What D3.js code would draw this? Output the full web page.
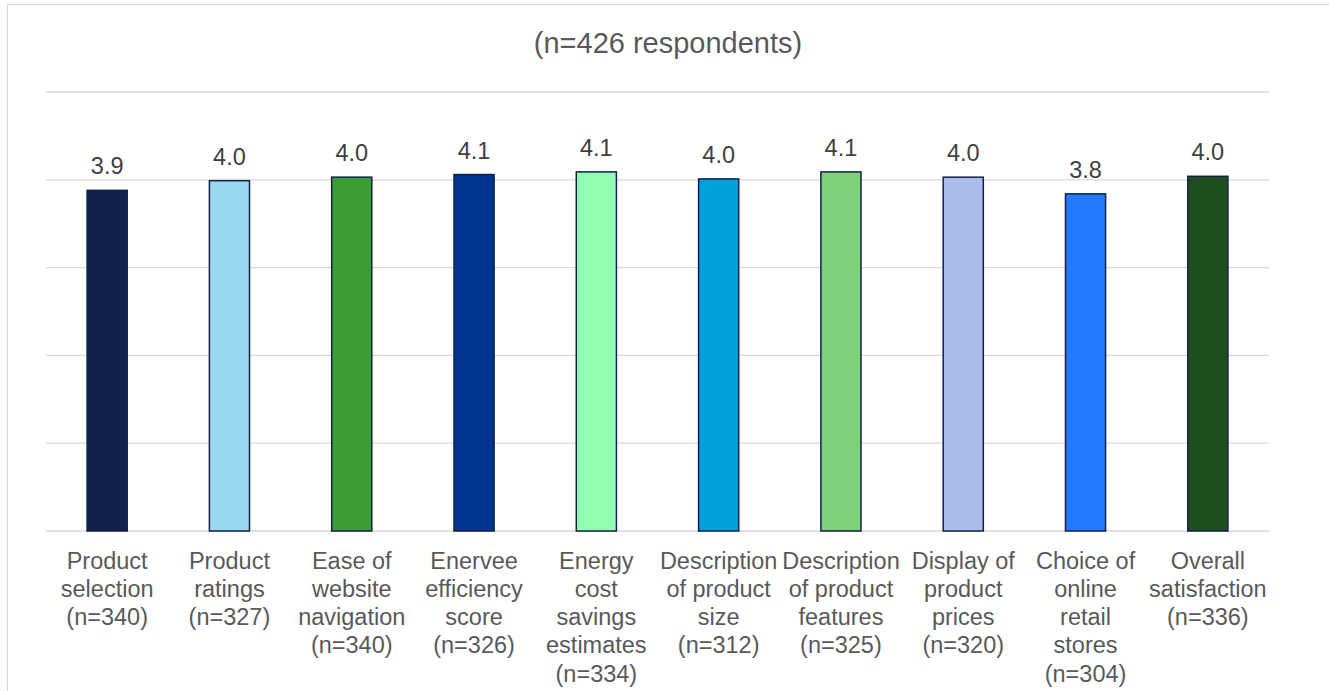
<!DOCTYPE html>
<html>
<head>
<meta charset="utf-8">
<script src="https://cdn.jsdelivr.net/npm/d3@7"></script>
<style>
  html, body { margin: 0; padding: 0; background: #ffffff; }
  svg { display: block; }
  text { font-family: "Liberation Sans", Arial, sans-serif; }
</style>
</head>
<body>
<svg id="chart" width="1329" height="691"></svg>
<script>
// Mean satisfaction ratings per aspect (1–5 scale)
const categories = [
  "Product\nselection",
  "Product\nratings",
  "Ease of\nwebsite\nnavigation",
  "Enervee\nefficiency\nscore",
  "Energy\ncost\nsavings\nestimates",
  "Description\nof product\nsize",
  "Description\nof product\nfeatures",
  "Display of\nproduct\nprices",
  "Choice of\nonline\nretail\nstores",
  "Overall\nsatisfaction"
];
const sampleSizes = [340, 327, 340, 326, 334, 312, 325, 320, 304, 336];
const meanScores = [3.88, 3.99, 4.03, 4.06, 4.09, 4.01, 4.09, 4.03, 3.84, 4.04];
const barColors = [
  "#10214b", "#99d9f0", "#3c9c35", "#003591", "#94ffb3",
  "#00a0dc", "#80d07a", "#a9bceb", "#2479ff", "#1f4e1e"
];
const yTicks = [0, 1, 2, 3, 4, 5];
const titleText = "(n=426 respondents)";

const svg = d3.select("#chart");
const plot = { left: 46, right: 1269, top: 92, bottom: 531 };

// Outer chart frame
svg.append("rect")
  .attr("x", 7.5).attr("y", 4.5)
  .attr("width", 1340).attr("height", 700)
  .attr("fill", "none")
  .attr("stroke", "#d9d9d9")
  .attr("stroke-width", 1.2);

// Subtitle
svg.append("text")
  .attr("x", 668).attr("y", 53)
  .attr("text-anchor", "middle")
  .attr("font-size", 29)
  .attr("fill", "#595959")
  .text(titleText);

const x = d3.scaleBand()
  .domain(d3.range(categories.length))
  .range([plot.left, plot.right])
  .paddingInner(0.672)
  .paddingOuter(0.336);

const y = d3.scaleLinear()
  .domain([0, 5])
  .range([plot.bottom, plot.top]);

// Horizontal gridlines
svg.append("g")
  .selectAll("line")
  .data(yTicks)
  .join("line")
  .attr("x1", plot.left).attr("x2", plot.right)
  .attr("y1", d => y(d)).attr("y2", d => y(d))
  .attr("stroke", "#d9d9d9")
  .attr("stroke-width", d => d === 0 ? 1.6 : 1.3);

// Bars
svg.append("g")
  .selectAll("rect")
  .data(meanScores)
  .join("rect")
  .attr("x", (d, i) => x(i))
  .attr("y", d => y(d))
  .attr("width", x.bandwidth())
  .attr("height", d => y(0) - y(d))
  .attr("fill", (d, i) => barColors[i])
  .attr("stroke", "#10214b")
  .attr("stroke-width", 1.5);

// Value labels
const fmt = d3.format(".1f");
svg.append("g")
  .selectAll("text")
  .data(meanScores)
  .join("text")
  .attr("x", (d, i) => x(i) + x.bandwidth() / 2)
  .attr("y", d => y(d) - 16)
  .attr("text-anchor", "middle")
  .attr("font-size", 23.5)
  .attr("fill", "#404040")
  .text(d => fmt(d));

// Category labels with sample sizes
const labelGroup = svg.append("g");
categories.forEach((cat, i) => {
  const lines = cat.split("\n").concat(`(n=${sampleSizes[i]})`);
  const t = labelGroup.append("text")
    .attr("text-anchor", "middle")
    .attr("font-size", 23.5)
    .attr("fill", "#595959");
  lines.forEach((line, j) => {
    t.append("tspan")
      .attr("x", x(i) + x.bandwidth() / 2)
      .attr("y", plot.bottom + 37.5 + j * 28.3)
      .text(line);
  });
});
</script>
</body>
</html>
